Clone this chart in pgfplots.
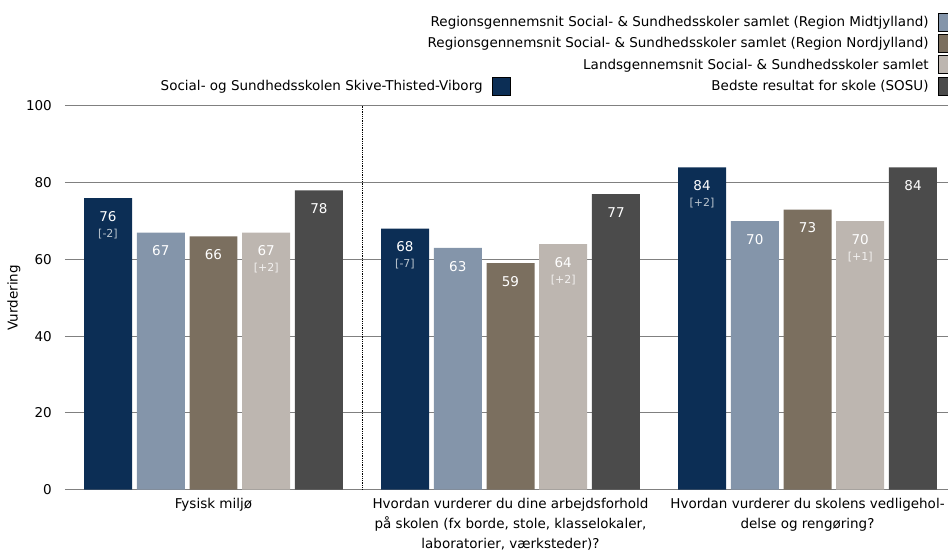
\documentclass[border=0pt]{standalone}
\usepackage{fontspec}
\setmainfont{DejaVu Sans}
\usepackage{pgfplots}
\pgfplotsset{compat=1.18}
\usepackage{pgfplotstable}

\definecolor{cnavy}{RGB}{12,46,85}
\definecolor{cblue}{RGB}{132,149,170}
\definecolor{cbrown}{RGB}{123,111,95}
\definecolor{clight}{RGB}{189,182,176}
\definecolor{cdark}{RGB}{75,75,75}
\definecolor{cgrid}{RGB}{128,128,128}

\pgfplotstableread{
x y d
0 76 -2
1 68 -7
2 84 +2
}\tskive
\pgfplotstableread{
x y
0 67
1 63
2 70
}\tmidt
\pgfplotstableread{
x y
0 66
1 59
2 73
}\tnord
\pgfplotstableread{
x y d
0 67 +2
1 64 +2
2 70 +1
}\tlands
\pgfplotstableread{
x y
0 78
1 77
2 84
}\tbest

\newcommand\fnt{\fontsize{13.5}{20}\selectfont}

\pgfplotsset{
  numlab/.style={
    nodes near coords,
    every node near coord/.append style={anchor=north, inner sep=0pt, yshift=-13pt, xshift=#1, text=white,
      font=\fontsize{13.5}{16}\selectfont},
  },
  brlab/.style 2 args={
    point meta=explicit symbolic,
    nodes near coords={\relax[\pgfplotspointmeta]},
    every node near coord/.append style={anchor=north, inner sep=0pt, yshift=-30.5pt, xshift=#2, text=#1,
      font=\fontsize{11}{12}\selectfont},
  },
  sqimg/.style={legend image code/.code={\fill[##1] (0pt,-9pt) rectangle (18pt,9pt);}},
}

\begin{document}
\begin{tikzpicture}
\useasboundingbox (0,0) rectangle (948pt,552pt);
\begin{axis}[
  at={(65pt,62.5pt)}, anchor=south west,
  scale only axis, width=891pt, height=383.5pt,
  xmin=-0.5, xmax=2.5, ymin=0, ymax=100,
  enlargelimits=false,
  axis line style={draw=none},
  ymajorgrids, grid style={cgrid, line width=1pt},
  major tick length=0pt,
  ytick={0,20,...,100},
  xtick={0,1,2},
  xticklabels={{Fysisk miljø},
    {Hvordan vurderer du dine arbejdsforhold\\på skolen (fx borde, stole, klasselokaler,\\laboratorier, værksteder)?},
    {Hvordan vurderer du skolens vedligehol-\\delse og rengøring?}},
  /pgf/number format/assume math mode=true,
  ticklabel style={font=\fnt},
  yticklabel style={inner sep=0pt, xshift=-13pt},
  xticklabel style={align=center, inner sep=0pt, yshift=-9pt},
  ylabel={Vurdering},
  every axis y label/.style={at={(axis description cs:0,0.5)}, rotate=90, anchor=center, yshift=51pt, font=\fnt},
  sqimg, legend plot pos=right,
  legend style={at={(axis description cs:1,1)}, anchor=south east, yshift=11pt,
    draw=none, fill=none, inner sep=0pt, outer sep=0pt, row sep=2.7pt, column sep=9pt,
    nodes={inner sep=0pt}, cells={anchor=east}, font=\fnt},
]
\addplot[ybar, bar width=0.1616, bar shift=-0.355, fill=cnavy, draw=none, numlab=-105.5pt, forget plot] table[x=x,y=y] {\tskive};
\addplot[ybar, bar width=0.1616, bar shift=-0.1775, fill=cblue, draw=none, numlab=-52.7pt, forget plot] table[x=x,y=y] {\tmidt};
\addplot[ybar, bar width=0.1616, bar shift=0, fill=cbrown, draw=none, numlab=0pt, forget plot] table[x=x,y=y] {\tnord};
\addplot[ybar, bar width=0.1616, bar shift=0.1775, fill=clight, draw=none, numlab=52.7pt, forget plot] table[x=x,y=y] {\tlands};
\addplot[ybar, bar width=0.1616, bar shift=0.355, fill=cdark, draw=none, numlab=105.5pt, forget plot] table[x=x,y=y] {\tbest};
\addplot[ybar, bar width=0.1616, bar shift=-0.355, fill=none, draw=none, brlab={white!72!cnavy}{-105.5pt}, forget plot] table[x=x,y=y,meta=d] {\tskive};
\addplot[ybar, bar width=0.1616, bar shift=0.1775, fill=none, draw=none, brlab={white!80!clight}{52.7pt}, forget plot] table[x=x,y=y,meta=d] {\tlands};
\addplot[black, densely dotted, line width=0.8pt, forget plot] coordinates {(0.5,0) (0.5,100)};
\addlegendimage{fill=cblue}
\addlegendentry{Regionsgennemsnit Social- \& Sundhedsskoler samlet (Region Midtjylland)}
\addlegendimage{fill=cbrown}
\addlegendentry{Regionsgennemsnit Social- \& Sundhedsskoler samlet (Region Nordjylland)}
\addlegendimage{fill=clight}
\addlegendentry{Landsgennemsnit Social- \& Sundhedsskoler samlet}
\addlegendimage{fill=cdark}
\addlegendentry{Bedste resultat for skole (SOSU)}
\end{axis}
\begin{axis}[
  at={(65pt,62.5pt)}, anchor=south west,
  scale only axis, width=891pt, height=383.5pt,
  xmin=0, xmax=1, ymin=0, ymax=1, hide axis,
  sqimg, legend plot pos=right,
  legend style={at={(axis description cs:0.4994,1)}, anchor=south east, yshift=11pt,
    draw=none, fill=none, inner sep=0pt, outer sep=0pt, column sep=9pt,
    nodes={inner sep=0pt}, cells={anchor=east}, font=\fnt},
]
\addlegendimage{fill=cnavy}
\addlegendentry{Social- og Sundhedsskolen Skive-Thisted-Viborg}
\end{axis}
\end{tikzpicture}
\end{document}
